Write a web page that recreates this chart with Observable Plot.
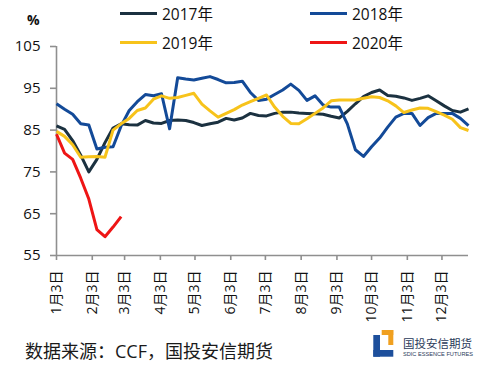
<!DOCTYPE html>
<html>
<head>
<meta charset="utf-8">
<script src="https://cdn.jsdelivr.net/npm/d3@7"></script>
<script src="https://cdn.jsdelivr.net/npm/@observablehq/plot@0.6"></script>
<style>
  html, body { margin: 0; padding: 0; background: #fff; }
  body { width: 491px; height: 373px; position: relative; overflow: hidden;
         font-family: "Open Sans", "Noto Sans CJK SC", sans-serif; color: #111; }
  #chart { position: absolute; left: 0; top: 0; }
  .abs { position: absolute; white-space: nowrap; }
  .sw { position: absolute; width: 37px; height: 3px; }
  .lg { position: absolute; font-size: 15.5px; line-height: 20px; }
</style>
</head>
<body>
<div id="chart"></div>
<div class="abs" style="left:27px;top:10px;font-size:14px;font-weight:bold;">%</div>
<div id="legend"></div>
<div class="abs" style="left:25px;top:337px;font-size:18px;color:#1a1a1a;">数据来源：CCF，国投安信期货</div>
<svg class="abs" style="left:370px;top:326px;" width="110" height="36" viewBox="370 326 110 36">
  <rect x="373.3" y="335" width="6.7" height="21.7" fill="#1d4f9c"/>
  <rect x="373.3" y="350" width="20" height="6.7" fill="#1d4f9c"/>
  <rect x="381.7" y="330" width="11.6" height="5" fill="#f0a020"/>
  <rect x="388.3" y="330" width="5" height="15" fill="#f0a020"/>
  <text x="403" y="347.5" font-size="11.5" fill="#2a3a5a" font-family="Noto Sans CJK SC">国投安信期货</text>
  <text x="403" y="355.5" font-size="5.2" fill="#2a3a5a" font-family="Liberation Sans Narrow, Liberation Sans" textLength="70" lengthAdjust="spacingAndGlyphs">SDIC ESSENCE FUTURES</text>
</svg>
<script>
// ---- data ----
const seriesNames = ["2017年", "2018年", "2019年", "2020年"];
const seriesColors = ["#1b3140", "#134a98", "#f7c31b", "#ee1515"];
const weekStart = "2019-01-03"; // weekly observations, aligned on a common calendar
const v2017 = [86.0, 85.2, 82.5, 79.0, 75.0, 78.0, 82.0, 85.5, 86.5, 86.3, 86.2, 87.3, 86.7, 86.6,
  87.3, 87.4, 87.3, 86.8, 86.1, 86.5, 86.9, 87.8, 87.4, 87.9, 89.0, 88.5, 88.4, 89.0, 89.3, 89.3,
  89.1, 89.0, 88.9, 88.8, 88.3, 87.9, 89.5, 91.3, 93.0, 94.0, 94.6, 93.3, 93.1, 92.7, 92.1, 92.6,
  93.2, 92.0, 90.8, 89.7, 89.3, 90.1];
const v2018 = [91.3, 90.0, 88.8, 86.5, 86.2, 80.5, 80.9, 81.0, 86.0, 89.7, 91.8, 93.5, 93.2, 93.7,
  85.3, 97.5, 97.2, 97.0, 97.4, 97.8, 97.1, 96.3, 96.4, 96.7, 94.0, 92.1, 92.4, 93.5, 94.6, 96.0,
  94.5, 92.1, 93.2, 91.0, 90.5, 90.5, 86.5, 80.3, 78.7, 81.0, 83.1, 85.7, 88.1, 89.0, 89.0, 86.1,
  88.0, 89.0, 89.0, 89.0, 87.8, 86.1];
const v2019 = [84.7, 83.5, 81.5, 78.5, 78.6, 78.7, 78.5, 85.0, 86.5, 87.8, 89.7, 90.3, 92.4, 93.2,
  92.6, 92.8, 93.3, 93.8, 91.2, 89.6, 88.1, 89.0, 89.9, 91.0, 91.8, 92.6, 93.4, 90.5, 88.3, 86.6,
  86.5, 87.7, 89.0, 90.3, 92.0, 92.2, 92.2, 92.2, 92.6, 93.0, 92.8, 92.0, 90.8, 89.2, 89.8, 90.3,
  90.2, 89.4, 88.6, 87.6, 85.6, 84.9];
const v2020 = [84.0, 79.5, 78.0, 73.5, 68.5, 61.2, 59.5, 61.8, 64.3];
const yTicks = [55, 65, 75, 85, 95, 105];
const xTickMonths = [1, 2, 3, 4, 5, 6, 7, 8, 9, 10, 11, 12];

// ---- build table ----
const t0 = new Date(weekStart + "T00:00:00Z");
const dateOf = i => new Date(t0.getTime() + i * 7 * 86400000);
const all = [v2017, v2018, v2019, v2020];
const rows = [];
all.forEach((vals, s) => vals.forEach((v, i) => rows.push({date: dateOf(i), value: v, series: seriesNames[s]})));
const xTicks = xTickMonths.map(m => new Date(Date.UTC(2019, m - 1, 3)));
const xDomain = [t0, dateOf(51)];

const chart = Plot.plot({
  width: 491,
  height: 373,
  marginLeft: 56,
  marginRight: 23,
  marginTop: 46,
  marginBottom: 118,
  style: {fontFamily: '"Open Sans", "Noto Sans CJK SC", sans-serif', fontSize: "15px", color: "#111", background: "#fff"},
  x: {type: "utc", domain: xDomain, ticks: xTicks, tickFormat: d => `${d.getUTCMonth() + 1}月3日`,
      tickRotate: -90, tickSize: 5, tickPadding: 10, label: null},
  y: {domain: [55, 105], ticks: yTicks, tickSize: 6, tickPadding: 10, label: null},
  color: {domain: seriesNames, range: seriesColors},
  marks: [
    Plot.ruleY([55], {stroke: "#8f8f8f", strokeWidth: 1.6}),
    Plot.ruleX([t0], {y1: 55, y2: 105, stroke: "#8f8f8f", strokeWidth: 1.6}),
    Plot.line(rows, {x: "date", y: "value", z: "series", stroke: "series", strokeWidth: 3, strokeLinejoin: "round", strokeLinecap: "butt"})
  ]
});
document.getElementById("chart").appendChild(chart);

const svg = d3.select(chart);
svg.selectAll('[aria-label^="x-axis"]').style("font-size", "14px");
svg.selectAll('[aria-label^="x-axis"] text').style("font-size", "14px");
svg.selectAll('[aria-label^="y-axis"] text').style("font-size", "15px");
svg.selectAll('[aria-label^="x-axis"] line, [aria-label^="y-axis"] line, [aria-label^="x-axis"] path, [aria-label^="y-axis"] path')
  .attr("stroke", "#8f8f8f").style("stroke-width", "1.6px");

// ---- legend ----
const legendPos = [[120, 13], [310, 13], [120, 42], [310, 42]];
const lg = document.getElementById("legend");
seriesNames.forEach((n, i) => {
  const [x, y] = legendPos[i];
  const sw = document.createElement("div");
  sw.className = "sw";
  sw.style.left = x + "px"; sw.style.top = (y - 1) + "px"; sw.style.background = seriesColors[i];
  lg.appendChild(sw);
  const tx = document.createElement("div");
  tx.className = "lg";
  tx.style.left = (x + 42) + "px"; tx.style.top = (y - 9) + "px";
  tx.textContent = n;
  lg.appendChild(tx);
});
</script>
</body>
</html>
